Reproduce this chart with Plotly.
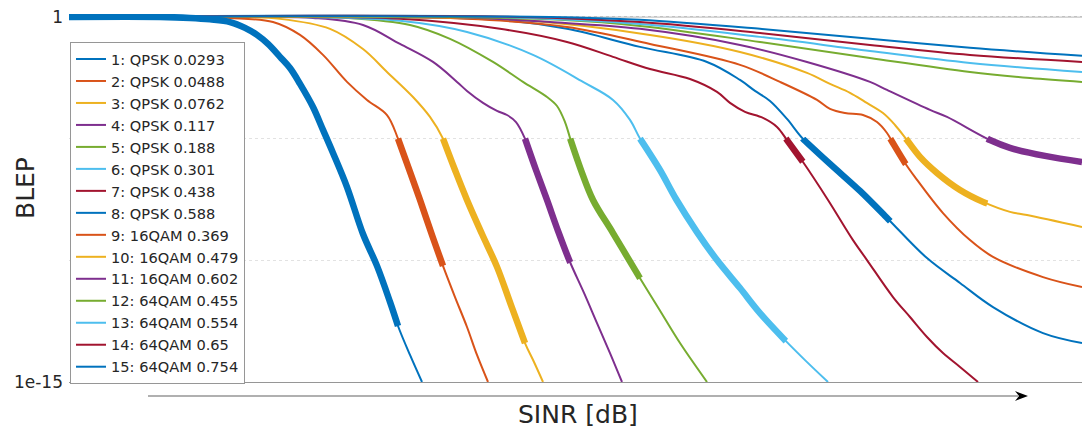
import numpy as np
import plotly.graph_objects as go

# MCS table: modulation and code rate of each entry
modulation = ["QPSK"] * 8 + ["16QAM"] * 3 + ["64QAM"] * 4
code_rate = ["0.0293", "0.0488", "0.0762", "0.117", "0.188", "0.301", "0.438", "0.588",
             "0.369", "0.479", "0.602", "0.455", "0.554", "0.65", "0.754"]

# SINR [dB] and log10(BLEP) samples for each MCS curve
sinr_01 = [-10.0, -6.36, -5.16, -4.36, -3.56, -2.96, -2.48, -2.04, -1.56, -1.16, -0.76, -0.24,
           0.16, 0.56, 1.12, 1.76, 2.32, 2.84, 3.16, 3.64, 4.12]
log_blep_01 = [0.0, 0.0, -0.04, -0.10, -0.21, -0.45, -0.74, -1.11, -1.64, -2.10, -2.75, -3.70,
               -4.64, -5.59, -6.99, -8.92, -10.23, -11.71, -12.70, -13.89, -15.0]

sinr_02 = [-10.0, -4.76, -3.56, -1.84, -0.76, 0.16, 1.12, 1.92, 2.72, 3.16, 3.64, 4.04, 4.52,
           4.96, 5.44, 5.92, 6.32, 6.76]
log_blep_02 = [0.0, 0.0, -0.04, -0.21, -0.74, -1.56, -2.67, -3.41, -4.03, -5.0, -6.37, -7.52,
               -8.96, -10.23, -11.51, -12.74, -13.89, -15.0]

sinr_03 = [-10.0, -3.56, -1.56, 0.44, 1.76, 2.72, 3.76, 4.44, 4.96, 5.44, 5.92, 6.52, 7.12,
           7.68, 8.24, 8.60, 8.96]
log_blep_03 = [0.0, 0.0, -0.08, -0.49, -1.32, -2.26, -3.29, -4.11, -5.0, -6.29, -7.52, -8.92,
               -10.27, -11.84, -13.40, -14.18, -15.0]

sinr_04 = [-10.0, -2.76, -0.24, 1.76, 3.24, 4.56, 5.52, 5.92, 6.56, 7.12, 7.52, 7.88, 8.24,
           8.68, 9.12, 9.56, 10.04, 10.60, 11.12, 11.64, 12.12]
log_blep_04 = [0.0, 0.0, -0.04, -0.33, -1.11, -1.85, -2.67, -3.04, -3.53, -3.86, -4.03, -4.32,
               -5.0, -6.29, -7.52, -8.79, -10.07, -11.34, -12.58, -13.81, -15.0]

sinr_05 = [-10.0, -0.76, 1.12, 3.64, 5.24, 6.96, 8.16, 9.12, 9.52, 9.84, 10.08, 10.48, 10.96,
           11.76, 12.76, 13.60, 14.44, 15.52]
log_blep_05 = [0.0, 0.0, -0.04, -0.33, -0.90, -1.85, -2.67, -3.29, -3.66, -4.32, -5.10, -6.29,
               -7.52, -8.88, -10.60, -12.00, -13.40, -15.0]

sinr_06 = [-10.0, -0.76, 3.24, 5.92, 8.56, 10.56, 11.76, 12.44, 12.84, 13.64, 14.28, 15.12,
           15.92, 16.84, 17.64, 18.64, 19.44, 20.36]
log_blep_06 = [0.0, 0.0, -0.16, -0.62, -1.56, -2.67, -3.41, -4.23, -5.0, -6.29, -7.48, -8.84,
               -9.99, -11.14, -12.17, -13.28, -14.10, -15.0]

sinr_07 = [-10.0, -0.76, 3.24, 7.24, 9.92, 11.76, 13.24, 14.84, 15.92, 16.44, 17.04, 17.76,
           18.32, 18.72, 19.36, 20.36, 21.36, 21.92, 22.96, 23.64, 24.32, 24.96, 25.64, 26.36]
log_blep_07 = [0.0, 0.0, -0.08, -0.49, -1.03, -1.64, -2.14, -2.55, -3.08, -3.53, -3.90, -4.15,
               -4.52, -5.06, -5.96, -7.52, -9.17, -9.99, -11.51, -12.33, -13.15, -13.81, -14.38,
               -15.0]

sinr_08 = [-10.0, 1.24, 7.24, 9.92, 12.84, 15.52, 16.84, 17.44, 18.04, 18.72, 19.36, 20.44,
           21.64, 22.76, 24.32, 25.64, 26.96, 28.96, 30.52]
log_blep_08 = [0.0, 0.0, -0.12, -0.49, -1.23, -1.85, -2.59, -3.04, -3.45, -4.19, -5.01, -6.04,
               -7.15, -8.30, -9.91, -10.93, -11.92, -12.99, -13.40]

sinr_09 = [-10.0, 1.24, 5.92, 9.92, 13.24, 16.84, 18.44, 19.92, 20.44, 21.04, 21.76, 22.32,
           22.72, 23.00, 23.44, 23.84, 24.96, 26.04, 26.96, 28.96, 30.52]
log_blep_09 = [0.0, 0.0, -0.08, -0.41, -1.11, -1.97, -2.67, -3.41, -3.78, -3.95, -4.03, -4.32,
               -4.77, -5.26, -6.00, -6.58, -8.06, -9.17, -9.86, -10.69, -11.10]

sinr_10 = [-10.0, 3.24, 7.92, 13.24, 16.84, 19.52, 20.44, 21.24, 21.84, 22.56, 23.04, 23.52,
           24.04, 24.72, 25.64, 26.56, 27.64, 28.32, 30.52]
log_blep_10 = [0.0, 0.0, -0.12, -0.74, -1.44, -2.30, -2.75, -3.12, -3.49, -3.95, -4.44, -5.06,
               -5.75, -6.41, -7.11, -7.60, -8.01, -8.14, -8.63]

sinr_11 = [-10.0, 5.24, 9.24, 12.84, 16.84, 19.52, 22.04, 22.72, 24.44, 25.12, 26.84, 27.64,
           29.04, 30.52]
log_blep_11 = [0.0, 0.0, -0.21, -0.49, -1.15, -1.85, -2.67, -3.00, -3.82, -4.11, -5.06, -5.38,
               -5.71, -5.96]

sinr_12 = [-10.0, 5.24, 9.64, 12.84, 17.64, 22.04, 26.04, 28.44, 30.52]
log_blep_12 = [0.0, 0.0, -0.12, -0.37, -1.03, -1.69, -2.26, -2.51, -2.67]

sinr_13 = [-10.0, 7.24, 12.84, 17.64, 22.04, 26.04, 30.52]
log_blep_13 = [0.0, 0.0, -0.29, -0.82, -1.40, -1.89, -2.26]

sinr_14 = [-10.0, 8.04, 12.84, 17.64, 22.04, 26.04, 30.52]
log_blep_14 = [0.0, 0.0, -0.21, -0.66, -1.15, -1.56, -1.85]

sinr_15 = [-10.0, 9.24, 12.84, 17.64, 22.04, 26.04, 30.52]
log_blep_15 = [0.0, 0.0, -0.12, -0.49, -0.90, -1.27, -1.60]

curves = [
    (sinr_01, log_blep_01), (sinr_02, log_blep_02), (sinr_03, log_blep_03),
    (sinr_04, log_blep_04), (sinr_05, log_blep_05), (sinr_06, log_blep_06),
    (sinr_07, log_blep_07), (sinr_08, log_blep_08), (sinr_09, log_blep_09),
    (sinr_10, log_blep_10), (sinr_11, log_blep_11), (sinr_12, log_blep_12),
    (sinr_13, log_blep_13), (sinr_14, log_blep_14), (sinr_15, log_blep_15),
]

TARGET_LOG_BLEP = -5.0          # link adaptation target BLEP = 1e-5
X_MIN, X_MAX = -10.0, 30.52

palette = ["#0072BD", "#D95319", "#EDB120", "#7E2F8E", "#77AC30", "#4DBEEE", "#A2142F"]
FONT = "DejaVu Sans"
TXT = "#262626"
AXIS = "#969696"


def target_crossing(s, lb, target):
    """SINR at which a curve first reaches the target BLEP (inf if never)."""
    s = np.asarray(s, float)
    lb = np.asarray(lb, float)
    below = np.nonzero(lb <= target)[0]
    if len(below) == 0:
        return np.inf
    j = below[0]
    if j == 0:
        return s[0]
    t = (lb[j - 1] - target) / (lb[j - 1] - lb[j])
    return s[j - 1] + t * (s[j] - s[j - 1])


fig = go.Figure()

# thin full curves (these carry the legend)
for i, (s, lb) in enumerate(curves):
    fig.add_trace(go.Scatter(
        x=s, y=10 ** np.asarray(lb), mode="lines",
        line=dict(color=palette[i % 7], width=2, shape="spline"),
        name=f"{i + 1}: {modulation[i]} {code_rate[i]}",
        hoverinfo="skip",
    ))

# thick segments: the MCS chosen for each SINR (highest MCS meeting the target)
cross = [target_crossing(s, lb, TARGET_LOG_BLEP) for s, lb in curves]
for k, (s, lb) in enumerate(curves):
    start = X_MIN if k == 0 else cross[k]
    if not np.isfinite(start):
        continue
    later = [c for c in cross[k + 1:] if np.isfinite(c)]
    end = min(later) if later else X_MAX
    if end <= start:
        continue
    s_arr = np.asarray(s, float)
    inside = s_arr[(s_arr > start) & (s_arr < end)]
    xs = np.concatenate([[start], inside, [end]])
    ys = np.interp(xs, s_arr, np.asarray(lb, float))
    fig.add_trace(go.Scatter(
        x=xs, y=10 ** ys, mode="lines",
        line=dict(color=palette[k % 7], width=6.5, shape="spline"),
        showlegend=False, hoverinfo="skip",
    ))

W, H = 1082, 436
ML, MR, MT, MB = 69, 0, 14, 54
plot_w, plot_h = W - ML - MR, H - MT - MB
Y_RANGE = [-15.0, 0.12]


def px_x(px):
    return (px - ML) / plot_w


def px_y(py):
    return (H - MB - py) / plot_h


fig.update_layout(
    width=W, height=H,
    margin=dict(l=ML, r=MR, t=MT, b=MB, pad=0),
    paper_bgcolor="white", plot_bgcolor="white",
    font=dict(family=FONT, color=TXT),
    xaxis=dict(range=[X_MIN, X_MAX], showgrid=False, zeroline=False,
               showticklabels=False, ticks="", showline=True,
               linecolor=AXIS, linewidth=1),
    yaxis=dict(type="log", range=Y_RANGE,
               tickvals=[1e-15, 1e-10, 1e-5, 1], ticktext=["1e-15", "", "", "1"],
               showgrid=True, gridcolor="#e2e2e2", griddash="dot", gridwidth=1,
               zeroline=False, showline=False, ticks="", ticklabelstandoff=5,
               tickfont=dict(family=FONT, size=17, color=TXT)),
    legend=dict(x=px_x(70), y=px_y(42), xanchor="left", yanchor="top",
                bgcolor="white", bordercolor=AXIS, borderwidth=1,
                font=dict(family=FONT, size=14.6, color=TXT),
                itemwidth=30, tracegroupgap=0),
    showlegend=True,
)

# upper frame line at BLEP = 1
y_one = (0 - Y_RANGE[0]) / (Y_RANGE[1] - Y_RANGE[0])
fig.add_shape(type="line", xref="paper", yref="paper", x0=0, x1=1, y0=y_one, y1=y_one,
              line=dict(color=AXIS, width=1), layer="between")

# SINR direction arrow below the axis
arrow_y = px_y(396)
fig.add_shape(type="line", xref="paper", yref="paper",
              x0=px_x(148), x1=px_x(1018), y0=arrow_y, y1=arrow_y,
              line=dict(color=AXIS, width=1.5))
fig.add_shape(type="path", xref="paper", yref="paper",
              xsizemode="pixel", ysizemode="pixel",
              xanchor=px_x(1028), yanchor=arrow_y,
              path="M0,0 L-13,5 L-9,0 L-13,-5 Z",
              fillcolor="black", line=dict(width=0))

fig.add_annotation(text="SINR [dB]", xref="paper", yref="paper",
                   x=px_x(578), y=px_y(414), xanchor="center", yanchor="middle",
                   showarrow=False, font=dict(family=FONT, size=25, color=TXT))
fig.add_annotation(text="BLEP", xref="paper", yref="paper", textangle=-90,
                   x=px_x(25), y=px_y(188), xanchor="center", yanchor="middle",
                   showarrow=False, font=dict(family=FONT, size=25, color=TXT))

fig.write_html("out.html")
